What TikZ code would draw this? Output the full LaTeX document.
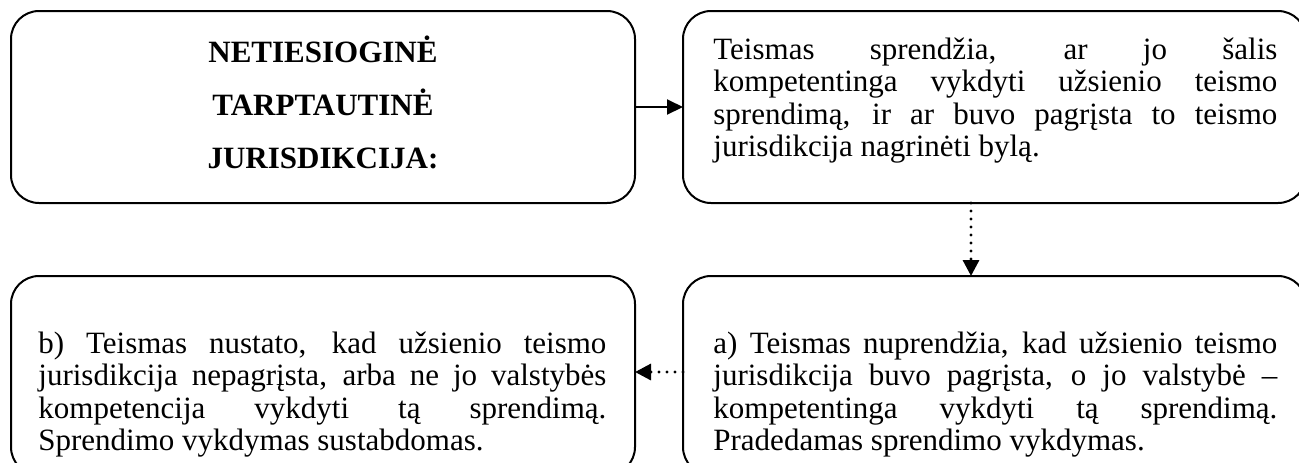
\documentclass[tikz,border=0pt]{standalone}
\usepackage{fontspec}
\setmainfont{Liberation Serif}
\usetikzlibrary{arrows.meta}
\tikzset{
  panel/.style={draw, line width=1pt, rounded corners=14pt, inner sep=0pt,
    outer sep=0pt, anchor=north west},
  body/.style={anchor=base west, inner sep=0pt, align=justify,
    font=\fontsize{15.5pt}{16.3pt}\selectfont},
  heading/.style={anchor=base, inner sep=0pt, align=center, text width=300pt,
    font=\fontsize{15.5pt}{26.5pt}\selectfont\bfseries},
  solidarrow/.style={line width=1pt, -{Triangle[length=8pt,width=7.5pt]}},
  dotarrow/.style={line width=1.6pt, line cap=round, dash pattern=on 0pt off 4pt,
    -{Triangle[length=8pt,width=8pt]}}
}
\begin{document}
\begin{tikzpicture}[x=0.5pt,y=-0.5pt]
  \useasboundingbox (0,0) rectangle (1299,462);
  \clip (0,0) rectangle (1299,462);
  % frames
  \node[panel, minimum width=312pt, minimum height=96pt] (kind) at (11,11) {};
  \node[panel, minimum width=311.5pt, minimum height=96pt] (check) at (683,11) {};
  \node[panel, minimum width=312pt, minimum height=99.5pt] (stop) at (11,276) {};
  \node[panel, minimum width=311.5pt, minimum height=99.5pt] (start) at (683,276) {};
  % texts
  \node[heading] (kindtext) at (323,62)
    {NETIESIOGINĖ\\TARPTAUTINĖ\\JURISDIKCIJA:};
  \node[body, text width=282pt] (checktext) at (713,59)
    {Teismas sprendžia, ar jo šalis\linebreak
     kompetentinga vykdyti užsienio teismo\linebreak
     sprendimą, ir ar buvo pagrįsta to teismo\linebreak
     jurisdikcija nagrinėti bylą.};
  \node[body, text width=284pt] (stoptext) at (38,353)
    {b) Teismas nustato, kad užsienio teismo\linebreak
     jurisdikcija nepagrįsta, arba ne jo valstybės\linebreak
     kompetencija vykdyti tą sprendimą.\linebreak
     Sprendimo vykdymas sustabdomas.};
  \node[body, text width=282pt] (starttext) at (713,353)
    {a) Teismas nuprendžia, kad užsienio teismo\linebreak
     jurisdikcija buvo pagrįsta, o jo valstybė –\linebreak
     kompetentinga vykdyti tą sprendimą.\linebreak
     Pradedamas sprendimo vykdymas.};
  % arrows
  \draw[solidarrow] (kind.east) -- (check.west);
  \draw[dotarrow] ([xshift=-11.75pt]check.south) -- ([xshift=-11.75pt]start.north);
  \draw[dotarrow] ([yshift=1.75pt]start.west) -- ([yshift=1.75pt]stop.east);
\end{tikzpicture}
\end{document}
